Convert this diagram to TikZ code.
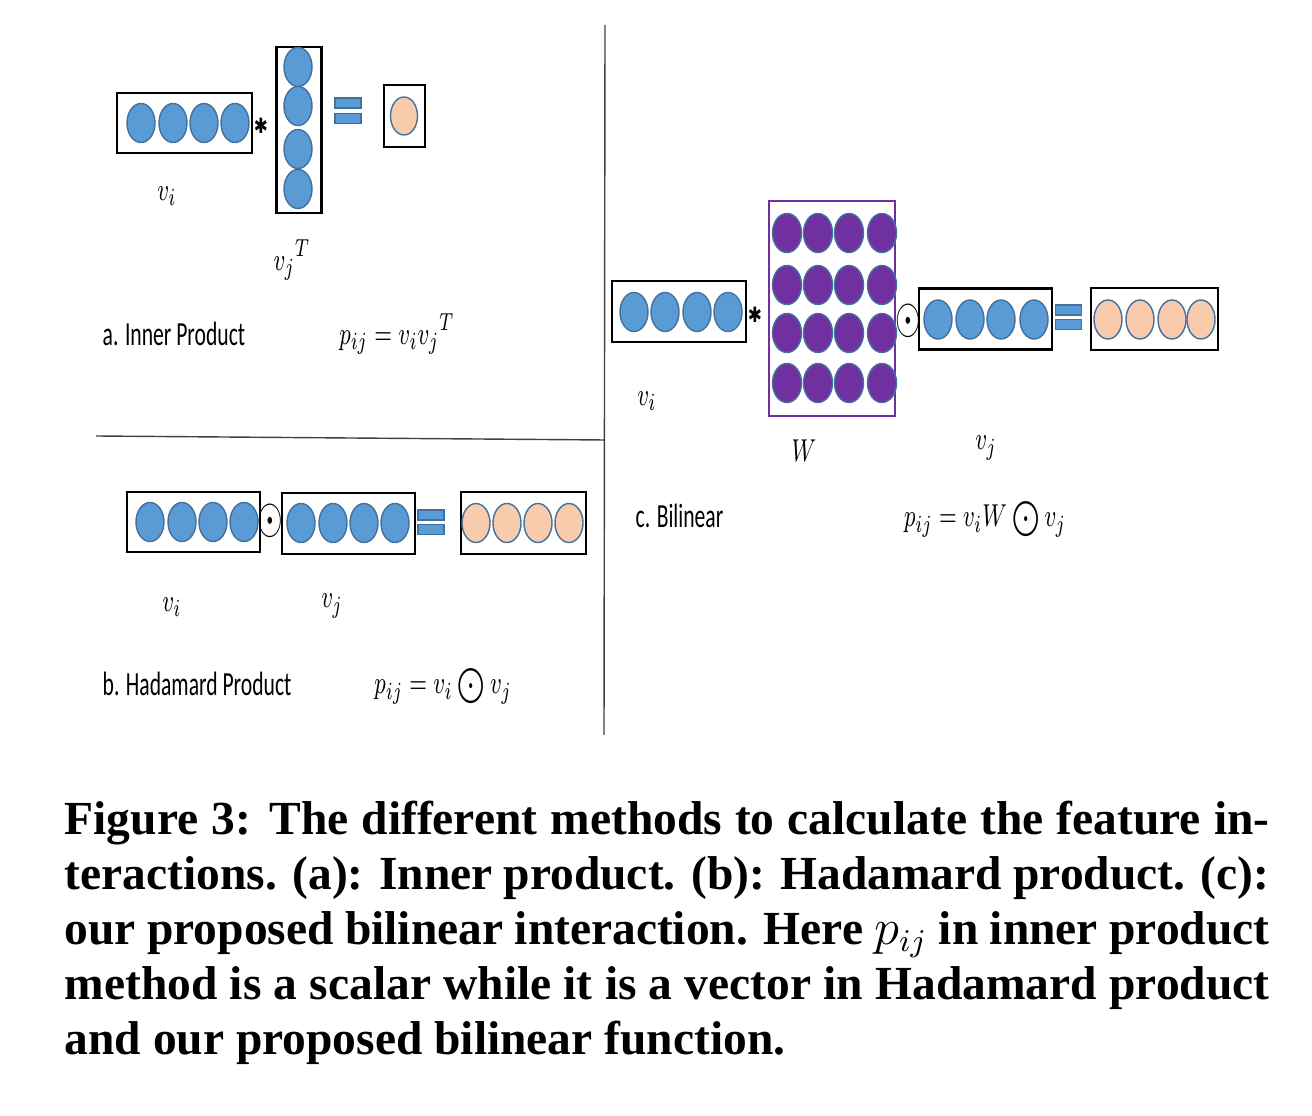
\documentclass[tikz,border=0pt]{standalone}
\usepackage{fontspec}
\usepackage{graphicx}
\usetikzlibrary{shapes.geometric}
\setmainfont{Liberation Serif}
\newfontfamily\calibri{Carlito}
\newfontfamily\dejavu{DejaVu Sans}
\definecolor{dotblue}{HTML}{5B9BD5}
\definecolor{dotedge}{HTML}{41719C}
\definecolor{dotpeach}{HTML}{F8CBAD}
\definecolor{dotpurple}{HTML}{7030A0}
\newcommand{\squeeze}[2][0.64]{\scalebox{#1}[1]{#2}}
\newcommand{\bigdot}{\mathbin{\textstyle\bigodot}}

\begin{document}
\begin{tikzpicture}[x=0.01cm, y=-0.01cm,
    vec_box/.style = {draw, line width=0.6pt, inner sep=0pt},
    blue_dot/.style = {ellipse, draw=dotedge, fill=dotblue, line width=0.4pt,
      inner sep=0pt, minimum width=0.28cm, minimum height=0.39cm},
    peach_dot/.style = {blue_dot, fill=dotpeach},
    purple_dot/.style = {blue_dot, fill=dotpurple, minimum width=0.29cm},
    eq_bar/.style = {draw=dotedge, fill=dotblue, line width=0.3pt, inner sep=0pt,
      minimum width=0.26cm, minimum height=0.1cm},
    op_sym/.style = {inner sep=0pt, font=\fontsize{10}{10}\selectfont},
    vec_label/.style = {inner sep=0pt, font=\fontsize{9.4}{10}\selectfont},
    panel_label/.style = {inner sep=0pt, anchor=west, font=\calibri\fontsize{9.6}{11}\selectfont},
    divider/.style = {draw=black!75, line width=0.4pt},
    caption_text/.style = {inner sep=0pt, anchor=north west, text width=12.04cm, align=justify,
      font=\bfseries\fontsize{13.5}{15.65}\selectfont},
    ]
    \useasboundingbox (0,0) rectangle (1312,1116);

    % dividers
    \coordinate (v_top) at (605,25);
    \coordinate (v_bot) at (604,735);
    \coordinate (h_left) at (96,436);
    \coordinate (h_right) at (605,440);
    \draw[divider] (v_top) -- (v_bot);
    \draw[divider] (h_left) -- (h_right);

    % a. inner product
    \node[vec_box, minimum width=1.35cm, minimum height=0.6cm] (a_vi) at (184.5,123) {};
    \foreach \x [count=\k] in {141,173,204,235}
      \node[blue_dot] (a_vi_\k) at (\x,123) {};
    \node[op_sym] (a_star) at (261,126) {\squeeze[0.8]{\dejavu\fontsize{6}{6}\selectfont ✱}};
    \node[vec_box, minimum width=0.45cm, minimum height=1.66cm] (a_vjt) at (299,130) {};
    \foreach \y [count=\k] in {67,106,149,189}
      \node[blue_dot] (a_vjt_\k) at (298,\y) {};
    \node[eq_bar] (a_eq_top) at (348,103) {};
    \node[eq_bar] (a_eq_bot) at (348,118.5) {};
    \node[vec_box, minimum width=0.41cm, minimum height=0.62cm] (a_res) at (404.5,116) {};
    \node[peach_dot, minimum width=0.27cm, minimum height=0.38cm] (a_res_1) at (404,116) {};
    \node[vec_label] (a_vi_lbl) at (167,196) {\squeeze[0.7]{$v_i$}};
    \node[vec_label] (a_vjt_lbl) at (292,260) {\squeeze[0.7]{${v_j}^{T}$}};
    \node[panel_label] (a_title) at (102,334) {\squeeze{a. Inner Product}};
    \node[vec_label] (a_formula) at (397,334) {\squeeze[0.7]{$p_{ij} = v_i {v_j}^{T}$}};

    % b. hadamard product
    \node[vec_box, minimum width=1.33cm, minimum height=0.6cm] (b_vi) at (193.5,522) {};
    \foreach \x [count=\k] in {150,182,213,244}
      \node[blue_dot] (b_vi_\k) at (\x,522) {};
    \node[op_sym] (b_odot) at (270,521) {\squeeze[0.65]{\fontsize{15}{15}\selectfont$\odot$}};
    \node[vec_box, minimum width=1.33cm, minimum height=0.61cm] (b_vj) at (348.5,523.5) {};
    \foreach \x [count=\k] in {301,333,364,395}
      \node[blue_dot] (b_vj_\k) at (\x,523) {};
    \node[eq_bar] (b_eq_top) at (431,515) {};
    \node[eq_bar] (b_eq_bot) at (431,529.5) {};
    \node[vec_box, minimum width=1.25cm, minimum height=0.62cm] (b_res) at (523.5,523) {};
    \foreach \x [count=\k] in {476,507,538,569}
      \node[peach_dot] (b_res_\k) at (\x,523) {};
    \node[vec_label] (b_vi_lbl) at (172,607) {\squeeze[0.7]{$v_i$}};
    \node[vec_label] (b_vj_lbl) at (332,606) {\squeeze[0.7]{$v_j$}};
    \node[panel_label] (b_title) at (102,684) {\squeeze{b. Hadamard Product}};
    \node[vec_label] (b_formula) at (443,686) {\squeeze[0.7]{$p_{ij} = v_i \bigdot v_j$}};

    % c. bilinear
    \node[vec_box, minimum width=1.34cm, minimum height=0.61cm] (c_vi) at (679,311.5) {};
    \foreach \x [count=\k] in {634,665,697,728}
      \node[blue_dot] (c_vi_\k) at (\x,312) {};
    \node[op_sym] (c_star) at (755,315) {\squeeze[0.8]{\dejavu\fontsize{6}{6}\selectfont ✱}};
    \node[vec_box, draw=dotpurple, minimum width=1.26cm, minimum height=2.15cm] (c_w) at (832,308.5) {};
    \foreach \y [count=\r] in {233,285,333,383}
      \foreach \x [count=\k] in {787,818,849,882}
        \node[purple_dot] (c_w_\r\k) at (\x,\y) {};
    \node[op_sym] (c_odot) at (908,321) {\squeeze[0.65]{\fontsize{15}{15}\selectfont$\odot$}};
    \node[vec_box, minimum width=1.33cm, minimum height=0.61cm] (c_vj) at (985.5,319) {};
    \foreach \x [count=\k] in {938,970,1001,1034}
      \node[blue_dot] (c_vj_\k) at (\x,319.5) {};
    \node[eq_bar] (c_eq_top) at (1068.5,310) {};
    \node[eq_bar] (c_eq_bot) at (1068.5,324.5) {};
    \node[vec_box, minimum width=1.27cm, minimum height=0.62cm] (c_res) at (1154.5,319) {};
    \foreach \x [count=\k] in {1108,1140,1172,1201}
      \node[peach_dot] (c_res_\k) at (\x,319.5) {};
    \node[vec_label] (c_vi_lbl) at (647,401) {\squeeze[0.7]{$v_i$}};
    \node[vec_label] (c_w_lbl) at (804,451) {\squeeze[0.7]{$W$}};
    \node[vec_label] (c_vj_lbl) at (986,448) {\squeeze[0.7]{$v_j$}};
    \node[panel_label] (c_title) at (635,516) {\squeeze{c. Bilinear}};
    \node[vec_label] (c_formula) at (985,519) {\squeeze[0.7]{$p_{ij} = v_i W \bigdot v_j$}};

    % caption
    \node[caption_text] (caption) at (64,800) {Figure 3: The different methods to calculate the feature in-\linebreak
      teractions. (a): Inner product. (b): Hadamard product. (c):\linebreak
      our proposed bilinear interaction. Here $p_{ij}$ in inner product\linebreak
      method is a scalar while it is a vector in Hadamard product\linebreak
      and our proposed bilinear function.};

\end{tikzpicture}
\end{document}
